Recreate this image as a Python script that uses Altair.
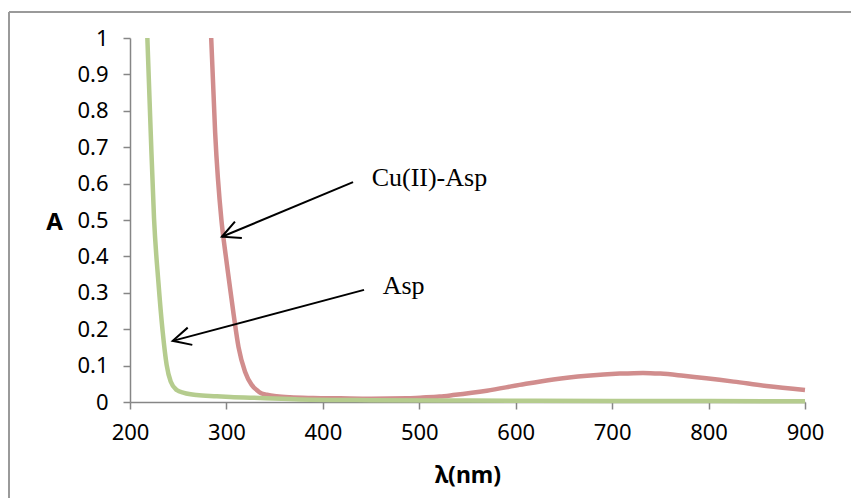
import altair as alt
import pandas as pd

# --- data ---
cu_wl = [284.2, 288.3, 294.8, 298.4, 302.9, 307.5, 312.6, 319.3, 326.2, 331.4,
         336, 342, 352, 366, 390, 418, 450, 487, 501, 521,
         535, 570, 604, 639, 674, 708, 732, 750, 774, 826, 860, 900]
cu_abs = [1.0, 0.74, 0.50, 0.42, 0.33, 0.24, 0.15, 0.083, 0.047, 0.033,
          0.024, 0.020, 0.016, 0.013, 0.011, 0.010, 0.009, 0.010, 0.012, 0.015,
          0.019, 0.031, 0.047, 0.062, 0.072, 0.078, 0.080, 0.078, 0.072, 0.056, 0.044, 0.033]

asp_wl = [218, 221.4, 224.9, 229.4, 233.9, 238, 242.2, 248.4, 256, 269,
          290, 304, 335, 376, 450, 550, 700, 900]
asp_abs = [1.0, 0.747, 0.505, 0.331, 0.193, 0.102, 0.056, 0.033, 0.025, 0.019,
           0.016, 0.014, 0.011, 0.007, 0.005, 0.004, 0.003, 0.002]

x_ticks = [200, 300, 400, 500, 600, 700, 800, 900]
y_ticks = [0, 0.1, 0.2, 0.3, 0.4, 0.5, 0.6, 0.7, 0.8, 0.9, 1]

label_text = ["Cu(II)-Asp", "Asp"]
label_wl = [450.6, 462]
label_abs = [0.594, 0.297]

arrow_start_wl = [431.3, 442.7]
arrow_start_abs = [0.604, 0.308]
arrow_tip_wl = [295.3, 244.3]
arrow_tip_abs = [0.454, 0.168]
arrow_angle = [157.2, 165.1]

RED = "#D18D8D"
GREEN = "#B5CC8E"
AXIS_GRAY = "#868686"

cu_df = pd.DataFrame({"wl": cu_wl, "A": cu_abs})
asp_df = pd.DataFrame({"wl": asp_wl, "A": asp_abs})
lab_df = pd.DataFrame({"text": label_text, "wl": label_wl, "A": label_abs})
arr_df = pd.DataFrame({"wl": arrow_start_wl, "A": arrow_start_abs,
                       "wl2": arrow_tip_wl, "A2": arrow_tip_abs,
                       "angle": arrow_angle})

xscale = alt.Scale(domain=[200, 900], nice=False, zero=False)
yscale = alt.Scale(domain=[0, 1], nice=False)

x_axis = alt.Axis(values=x_ticks, format="d", title="λ(nm)",
                  titleFont="Noto Sans", titleFontSize=23, titleFontWeight="bold",
                  titleColor="black", titleY=80, titleBaseline="alphabetic",
                  labelFont="Noto Sans", labelFontSize=22, labelColor="black",
                  labelPadding=13, labelFlush=False, labelOverlap=False,
                  tickSize=7, tickColor=AXIS_GRAY,
                  domainColor=AXIS_GRAY, domainWidth=1.5, tickWidth=1.5, grid=False)
y_axis = alt.Axis(values=y_ticks, format="~g", title="A",
                  titleFont="Noto Sans", titleFontSize=24, titleFontWeight="bold",
                  titleColor="black", titleAngle=0, titleX=-76, titleY=184,
                  titleAlign="center", titleBaseline="middle",
                  labelFont="Noto Sans", labelFontSize=22, labelColor="black",
                  labelPadding=15, labelFlush=False, labelOverlap=False,
                  tickSize=7, tickColor=AXIS_GRAY,
                  domainColor=AXIS_GRAY, domainWidth=1.5, tickWidth=1.5, grid=False)


def X(field):
    return alt.X(field, type="quantitative", scale=xscale, axis=x_axis)


def Y(field):
    return alt.Y(field, type="quantitative", scale=yscale, axis=y_axis)


cu_line = alt.Chart(cu_df).mark_line(color=RED, strokeWidth=4.5, interpolate="monotone").encode(
    x=X("wl"), y=Y("A"),
)
asp_line = alt.Chart(asp_df).mark_line(color=GREEN, strokeWidth=4.5, interpolate="monotone").encode(
    x=X("wl"), y=Y("A"),
)

shafts = alt.Chart(arr_df).mark_rule(color="black", strokeWidth=2).encode(
    x=X("wl"), y=Y("A"), x2="wl2:Q", y2="A2:Q",
)
heads = alt.Chart(arr_df).mark_point(
    shape="M -0.895 -0.446 L 0 0 L -0.895 0.446", filled=False,
    stroke="black", strokeWidth=2, size=1600, opacity=1,
).encode(
    x=X("wl2"), y=Y("A2"),
    angle=alt.Angle("angle:Q", scale=None),
)

labels = alt.Chart(lab_df).mark_text(
    font="Liberation Serif", fontSize=26, color="black",
    align="left", baseline="alphabetic",
).encode(
    x=X("wl"), y=Y("A"), text="text:N",
)

frame_left = alt.Chart(pd.DataFrame({"k": [0]})).mark_rule(color="#9A9A9A", strokeWidth=2).encode(
    x=alt.value(-121), y=alt.value(-26), y2=alt.value(470))
frame_top = alt.Chart(pd.DataFrame({"k": [0]})).mark_rule(color="#9A9A9A", strokeWidth=2).encode(
    x=alt.value(-121), x2=alt.value(730), y=alt.value(-26))

chart = alt.layer(
    frame_left, frame_top, cu_line, asp_line, shafts, heads, labels
).properties(
    width=675, height=364,
    autosize=alt.AutoSizeParams(type="none"),
    padding={"left": 130, "top": 38, "right": 46, "bottom": 96},
    background="white",
).configure_view(stroke=None)

chart.save("out.html", embed_options={"renderer": "svg", "actions": False})
